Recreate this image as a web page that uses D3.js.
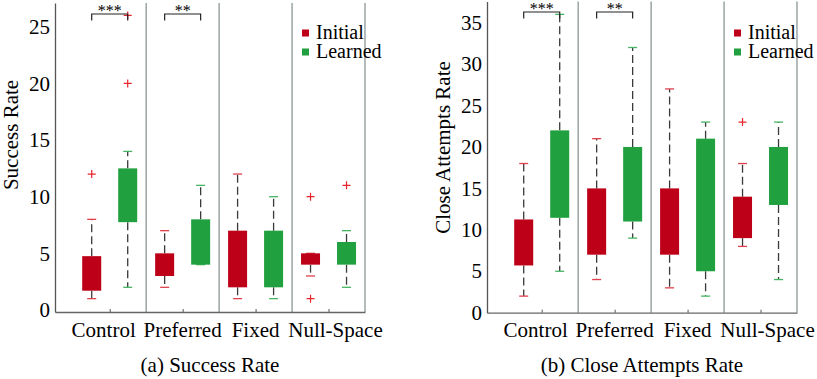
<!DOCTYPE html>
<html>
<head>
<meta charset="utf-8">
<script src="https://cdn.jsdelivr.net/npm/d3@7"></script>
<style>
  body { margin: 0; background: #fff; }
  svg text { font-family: 'Liberation Serif', 'Times New Roman', Times, 'DejaVu Serif', serif !important; fill: #000; }
</style>
</head>
<body>
<script>
// categories and series
const groups = ['Control', 'Preferred', 'Fixed', 'Null-Space'];
const seriesNames = ['Initial', 'Learned'];

// box values per group: [lower whisker, q1, q3, upper whisker]
const successInitial = [[1, 1.7, 4.75, 8], [2, 3, 5, 7], [1, 2, 7, 12], [3, 4, 5, 5]];
const successInitialOut = [[12], [], [], [10, 1]];
const successLearned = [[2, 7.75, 12.5, 14], [4, 4, 8, 11], [1, 2, 7, 10], [2, 4, 6, 7]];
const successLearnedOut = [[20, 26], [], [], [11]];

const attemptsInitial = [[2, 5.7, 11.25, 18], [4, 7, 15, 21], [3, 7, 15, 27], [8, 9, 14, 18]];
const attemptsInitialOut = [[], [], [], [23]];
const attemptsLearned = [[5, 11.45, 22, 36], [9, 11, 20, 32], [2, 5, 21, 23], [4, 13, 20, 23]];
const attemptsLearnedOut = [[], [], [], []];

// tick labels
const successTicks = [0, 5, 10, 15, 20, 25];
const attemptsTicks = [0, 5, 10, 15, 20, 25, 30, 35];

// significance brackets: group index and label
const sigGroups = [0, 1];
const sigLabels = ['***', '**'];

const boxColors = ['#bd0017', '#20a03f'];
const capColors = ['#e0404c', '#45b563'];
const outlierColor = '#e8242c';
const serif = "'Liberation Serif', 'Times New Roman', serif";

const svg = d3.select('body').append('svg')
  .attr('width', 817)
  .attr('height', 379)
  .attr('font-family', serif);

const panels = [
  {
    left: 55, right: 365, top: 3, bottom: 312,
    yDomain: [-0.18, 27.1], ticks: successTicks,
    initial: successInitial, initialOut: successInitialOut,
    learned: successLearned, learnedOut: successLearnedOut,
    yLabel: 'Success Rate', yLabelCenter: 135,
    caption: '(a) Success Rate', bracketY: 14
  },
  {
    left: 487, right: 797, top: 1.5, bottom: 312.7,
    yDomain: [0, 37.55], ticks: attemptsTicks,
    initial: attemptsInitial, initialOut: attemptsInitialOut,
    learned: attemptsLearned, learnedOut: attemptsLearnedOut,
    yLabel: 'Close Attempts Rate', yLabelCenter: 147.5,
    caption: '(b) Close Attempts Rate', bracketY: 12
  }
];

const drawPanel = (p) => {
  const g = svg.append('g');

  const xScale = d3.scaleLinear()
    .domain([0.25, 4.5])
    .range([p.left, p.right]);

  const yScale = d3.scaleLinear()
    .domain(p.yDomain)
    .range([p.bottom, p.top]);

  const boxW = 19;
  const offset = 18;
  const capW = 9;

  // group separators
  g.selectAll('.sep')
    .data(d3.range(1, groups.length + 1))
    .enter()
    .append('line')
    .attr('x1', (d) => xScale(d + 0.5))
    .attr('x2', (d) => xScale(d + 0.5))
    .attr('y1', p.top)
    .attr('y2', p.bottom)
    .attr('stroke', '#8c9696')
    .attr('stroke-width', 1.3);

  // x axis
  const xAxis = g.append('g')
    .attr('transform', `translate(0,${p.bottom})`)
    .call(d3.axisBottom(xScale)
      .tickValues([1, 2, 3, 4])
      .tickSizeInner(-3)
      .tickSizeOuter(0)
      .tickFormat(''));
  xAxis.select('.domain').attr('stroke', '#666').attr('stroke-width', 1.3);
  xAxis.selectAll('.tick line').attr('stroke', '#555');

  // x labels
  const labelShift = [-6, 0, 0, 7];
  g.selectAll('.xlabel')
    .data(groups)
    .enter()
    .append('text')
    .attr('x', (d, i) => xScale(i + 1) + labelShift[i])
    .attr('y', 337)
    .attr('text-anchor', 'middle')
    .attr('font-size', 21)
    .text((d) => d);

  // y axis
  const yAxis = g.append('g')
    .attr('transform', `translate(${p.left},0)`)
    .call(d3.axisLeft(yScale)
      .tickValues(p.ticks)
      .tickSize(0)
      .tickPadding(5));
  yAxis.attr('font-family', serif);
  yAxis.select('.domain').attr('stroke', '#555').attr('stroke-width', 1.3);
  yAxis.selectAll('.tick text')
    .attr('font-size', 21)
    .attr('fill', '#000');

  // y label
  g.append('text')
    .attr('transform', `translate(${p.left - 37},${p.yLabelCenter}) rotate(-90)`)
    .attr('text-anchor', 'middle')
    .attr('font-size', 21)
    .text(p.yLabel);

  // caption
  g.append('text')
    .attr('x', (p.left + p.right) / 2)
    .attr('y', 372)
    .attr('text-anchor', 'middle')
    .attr('font-size', 21)
    .text(p.caption);

  // boxes
  const sets = [
    { vals: p.initial, outs: p.initialOut, s: 0, dx: -offset },
    { vals: p.learned, outs: p.learnedOut, s: 1, dx: offset }
  ];

  sets.forEach((set) => {
    const bg = g.append('g');
    const cx = (i) => xScale(i + 1) + set.dx;

    // whiskers (dashed)
    bg.selectAll('.wu')
      .data(set.vals)
      .enter()
      .append('line')
      .attr('x1', (d, i) => cx(i))
      .attr('x2', (d, i) => cx(i))
      .attr('y1', (d) => yScale(d[2]))
      .attr('y2', (d) => yScale(d[3]))
      .attr('stroke', '#3a3a3a')
      .attr('stroke-width', 1.3)
      .attr('stroke-dasharray', '8,4');
    bg.selectAll('.wl')
      .data(set.vals)
      .enter()
      .append('line')
      .attr('x1', (d, i) => cx(i))
      .attr('x2', (d, i) => cx(i))
      .attr('y1', (d) => yScale(d[1]))
      .attr('y2', (d) => yScale(d[0]))
      .attr('stroke', '#3a3a3a')
      .attr('stroke-width', 1.3)
      .attr('stroke-dasharray', '8,4');

    // caps
    [0, 3].forEach((k) => {
      bg.selectAll('.cap' + k)
        .data(set.vals)
        .enter()
        .append('line')
        .attr('x1', (d, i) => cx(i) - capW / 2)
        .attr('x2', (d, i) => cx(i) + capW / 2)
        .attr('y1', (d) => yScale(d[k]))
        .attr('y2', (d) => yScale(d[k]))
        .attr('stroke', capColors[set.s])
        .attr('stroke-width', 1.3);
    });

    // box
    bg.selectAll('.box')
      .data(set.vals)
      .enter()
      .append('rect')
      .attr('x', (d, i) => cx(i) - boxW / 2)
      .attr('width', boxW)
      .attr('y', (d) => yScale(d[2]))
      .attr('height', (d) => yScale(d[1]) - yScale(d[2]))
      .attr('fill', boxColors[set.s]);

    // outliers
    const outs = [];
    set.outs.forEach((arr, i) => arr.forEach((v) => outs.push({ i, v })));
    bg.selectAll('.out')
      .data(outs)
      .enter()
      .append('path')
      .attr('d', (d) => {
        const x = cx(d.i);
        const y = yScale(d.v);
        return `M${x - 4},${y}H${x + 4}M${x},${y - 4}V${y + 4}`;
      })
      .attr('stroke', outlierColor)
      .attr('stroke-width', 1.2)
      .attr('fill', 'none');
  });

  // significance brackets
  sigGroups.forEach((gi, k) => {
    const x1 = xScale(gi + 1) - offset;
    const x2 = xScale(gi + 1) + offset;
    const y = p.bracketY;
    g.append('path')
      .attr('d', `M${x1},${y + 6.5}V${y}H${x2}V${y + 6.5}`)
      .attr('stroke', '#222')
      .attr('stroke-width', 1.2)
      .attr('fill', 'none');
    g.append('text')
      .attr('x', (x1 + x2) / 2)
      .attr('y', y + 2)
      .attr('text-anchor', 'middle')
      .attr('font-size', 16)
      .text(sigLabels[k]);
  });

  // legend
  seriesNames.forEach((name, k) => {
    const ly = 33 + k * 19;
    g.append('rect')
      .attr('x', p.right - 63)
      .attr('y', ly - 3.5)
      .attr('width', 7)
      .attr('height', 7)
      .attr('fill', boxColors[k]);
    g.append('text')
      .attr('x', p.right - 49)
      .attr('y', ly + 6)
      .attr('font-size', 20)
      .text(name);
  });
};

panels.forEach(drawPanel);
</script>
</body>
</html>
